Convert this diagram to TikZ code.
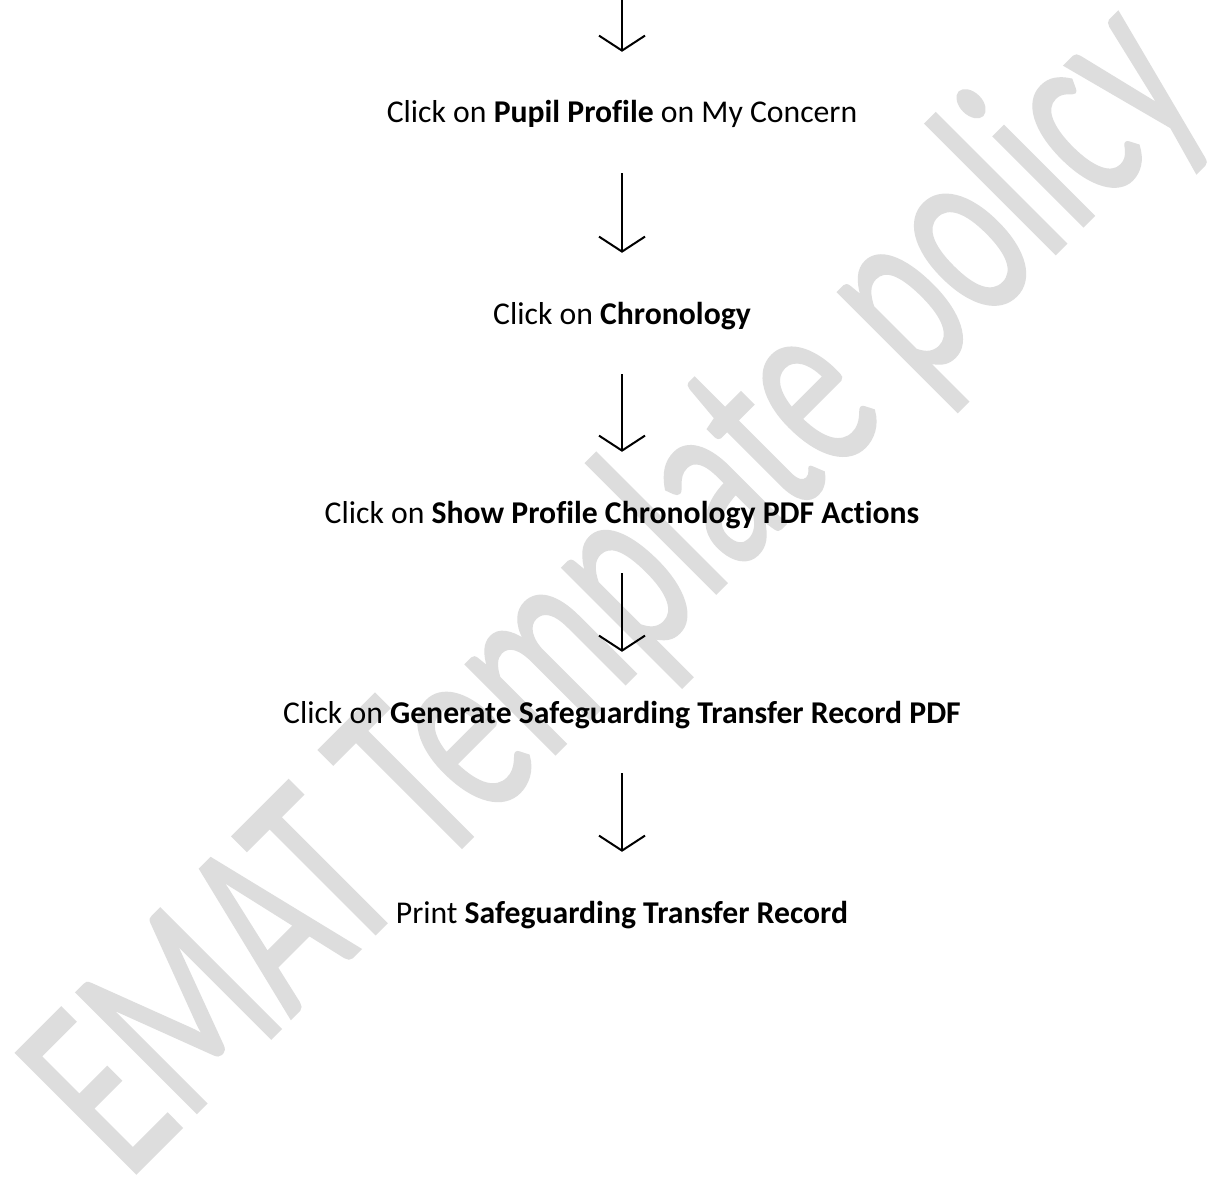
\documentclass[tikz,border=0pt]{standalone}
\usepackage{fontspec}
\setmainfont{Carlito}[Ligatures=NoCommon]
\newfontfamily\wmfont{Carlito}[Ligatures=NoCommon, FakeBold=1.1]
\usetikzlibrary{arrows.meta}
\definecolor{wmgray}{RGB}{221,221,221}
\begin{document}
\begin{tikzpicture}[x=1pt,y=-1pt,
  stepnode/.style={anchor=base, inner sep=0pt, font=\fontsize{31.7}{38}\selectfont,
                   text height=20pt, text depth=0pt},
  flow/.style={line width=2pt, shorten <=50pt, shorten >=51pt,
               -{Straight Barb[length=15pt,width=46pt,line width=2pt]}},
  watermark/.style={rotate=45, anchor=base, inner sep=0pt, text=wmgray}]
\useasboundingbox (0,0) rectangle (1223,1180);
\fill[white] (0,0) rectangle (1223,1180);
\node[watermark] (wm) at (668,641)
  {\scalebox{0.65}[1]{\wmfont\fontsize{264}{264}\selectfont EMAT Template policy}};
\node[stepnode] (s1) at (622,123) {Click on \textbf{Pupil Profile} on My Concern};
\node[stepnode] (s2) at (622,324) {Click on \textbf{Chronology}};
\node[stepnode] (s3) at (622,523) {Click on \textbf{Show Profile Chronology PDF Actions}};
\node[stepnode] (s4) at (622,723) {Click on \textbf{Generate Safeguarding Transfer Record PDF}};
\node[stepnode] (s5) at (622,923) {Print \textbf{Safeguarding Transfer Record}};
\coordinate (top) at (622,-77);
\draw[flow] (top) -- (s1.north);
\draw[flow] (s1.south) -- (s2.north);
\draw[flow] (s2.south) -- (s3.north);
\draw[flow] (s3.south) -- (s4.north);
\draw[flow] (s4.south) -- (s5.north);
\end{tikzpicture}
\end{document}
